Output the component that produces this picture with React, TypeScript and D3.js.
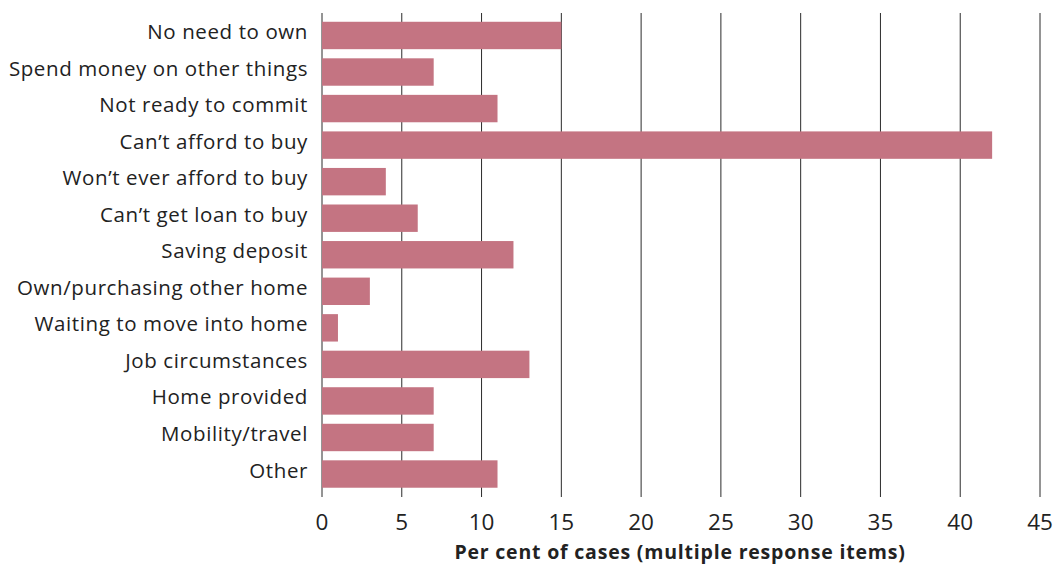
import React from "react";
import * as d3 from "d3";

const categories = [
  "No need to own",
  "Spend money on other things",
  "Not ready to commit",
  "Can\u2019t afford to buy",
  "Won\u2019t ever afford to buy",
  "Can\u2019t get loan to buy",
  "Saving deposit",
  "Own/purchasing other home",
  "Waiting to move into home",
  "Job circumstances",
  "Home provided",
  "Mobility/travel",
  "Other",
];
const values = [15, 7, 11, 42, 4, 6, 12, 3, 1, 13, 7, 7, 11];
const ticks = [0, 5, 10, 15, 20, 25, 30, 35, 40, 45];
const xTitle = "Per cent of cases (multiple response items)";

const W = 1056;
const H = 564;
const FONT = "'Open Sans', 'Noto Sans', sans-serif";

export default function App() {
  const x = d3.scaleLinear().domain([0, 45]).range([322, 1040]);
  const y = d3
    .scaleBand<string>()
    .domain(categories)
    .range([17.2, 492.3])
    .paddingInner(0.25)
    .paddingOuter(0.125);
  const gridTop = 13;
  const gridBottom = 497;
  return (
    <svg
      width={W}
      height={H}
      style={{ position: "absolute", left: 0, top: 0, background: "#fff" }}
    >
      {ticks.map((t) => (
        <line
          key={"g" + t}
          x1={x(t)}
          x2={x(t)}
          y1={gridTop}
          y2={gridBottom}
          stroke="#2b2b2b"
          strokeWidth={1}
        />
      ))}
      {categories.map((c, i) => (
        <rect
          key={c}
          x={x(0)}
          y={y(c)}
          width={x(values[i]) - x(0)}
          height={y.bandwidth()}
          fill="#c47482"
        />
      ))}
      {categories.map((c) => (
        <text
          key={"l" + c}
          x={308}
          y={(y(c) as number) + y.bandwidth() / 2 + 3.5}
          textAnchor="end"
          fontFamily={FONT}
          fontSize={20.5}
          letterSpacing={0.6}
          fill="#222"
        >
          {c}
        </text>
      ))}
      {ticks.map((t) => (
        <text
          key={"t" + t}
          x={x(t)}
          y={530}
          textAnchor="middle"
          fontFamily={FONT}
          fontSize={22.5}
          fill="#222"
        >
          {t}
        </text>
      ))}
      <text
        x={(x(0) + x(45)) / 2 - 1}
        y={558.5}
        textAnchor="middle"
        fontFamily={FONT}
        fontSize={19.5}
        fontWeight="bold"
        letterSpacing={0.8}
        fill="#222"
      >
        {xTitle}
      </text>
    </svg>
  );
}
